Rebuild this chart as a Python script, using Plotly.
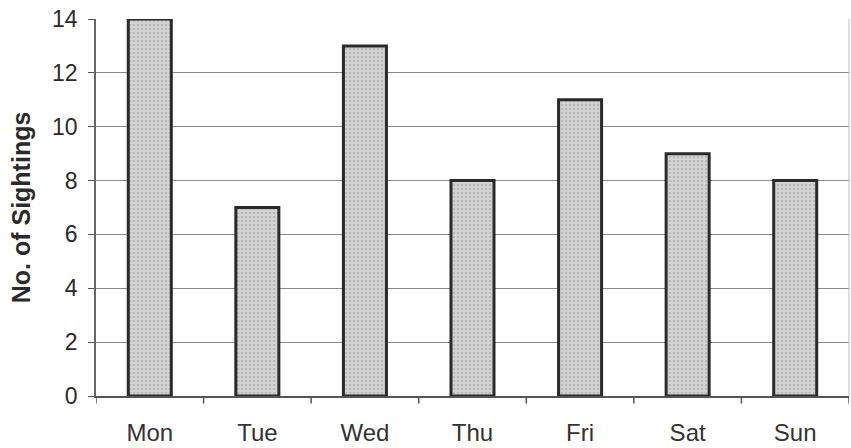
import plotly.graph_objects as go

days = ["Mon", "Tue", "Wed", "Thu", "Fri", "Sat", "Sun"]
sightings = [14, 7, 13, 8, 11, 9, 8]
y_ticks = [0, 2, 4, 6, 8, 10, 12, 14]

fig = go.Figure()
fig.add_trace(go.Bar(
    x=days, y=sightings,
    marker=dict(color="#cfcfcf",
                line=dict(color="#2a2a2a", width=3),
                pattern=dict(shape=".", fgcolor="#a0a0a0", bgcolor="#d4d4d4", size=4, solidity=0.35)),
    width=0.4,
))

fig.update_layout(
    width=851, height=448,
    margin=dict(l=96, r=2, t=19, b=52),
    paper_bgcolor="white", plot_bgcolor="white",
    font=dict(family="Liberation Sans, Arial", color="#2a2a2a"),
    showlegend=False,
    bargap=0.6,
)
fig.update_xaxes(
    range=[-0.5, 6.5],
    showline=True, linecolor="#555555", linewidth=2,
    ticks="", ticklabelstandoff=14,
    tickfont=dict(size=24, family="Liberation Sans Narrow, Arial Narrow, Liberation Sans", color="#333333"),
    showgrid=False,
)
fig.update_yaxes(
    range=[0, 14], tickvals=y_ticks,
    showline=True, linecolor="#666666", linewidth=1.5,
    ticks="outside", ticklen=6, tickcolor="#555555", ticklabelstandoff=6,
    tickfont=dict(size=23, color="#2a2a2a"),
    showgrid=True, gridcolor="#8a8a8a", gridwidth=1,
    title=dict(text="<b>No. of Sightings</b>", font=dict(size=25, color="#2a2a2a"), standoff=14),
)
for i in range(8):
    fig.add_shape(type="line", xref="x", yref="paper",
                  x0=i - 0.5, x1=i - 0.5, y0=0, y1=-0.02,
                  line=dict(color="#555555", width=1.5))
fig.add_shape(type="line", xref="paper", yref="paper", x0=1, x1=1, y0=0, y1=1,
              line=dict(color="#bbbbbb", width=1))
fig.write_html("out.html", config={"displayModeBar": False},
               post_script="document.body.style.margin='0';")
